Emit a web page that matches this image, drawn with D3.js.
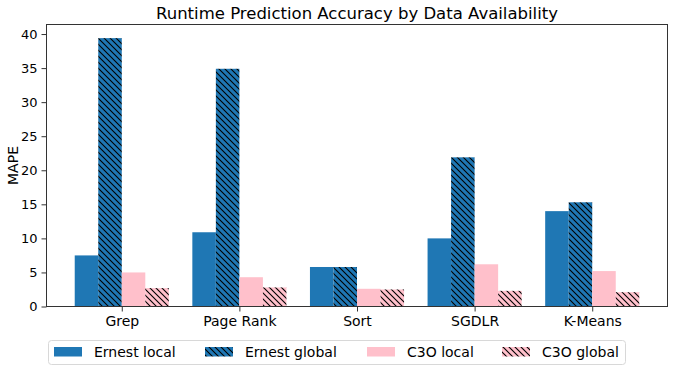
<!DOCTYPE html>
<html><head><meta charset="utf-8">
<script src="https://cdn.jsdelivr.net/npm/d3@7"></script>
<style>body{margin:0;background:#fff}svg{display:block}text{font-family:"DejaVu Sans",sans-serif;fill:#000}</style>
</head><body><svg id="c" width="675" height="372"></svg>
<script>
const categories = ["Grep", "Page Rank", "Sort", "SGDLR", "K-Means"];
const seriesNames = ["Ernest local", "Ernest global", "C3O local", "C3O global"];
const ernestLocal  = [7.5, 10.9, 5.8, 10.0, 14.0];
const ernestGlobal = [39.4, 34.9, 5.8, 21.9, 15.3];
const c3oLocal     = [5.0, 4.3, 2.6, 6.2, 5.2];
const c3oGlobal    = [2.7, 2.8, 2.5, 2.3, 2.1];
const yTicks = [0, 5, 10, 15, 20, 25, 30, 35, 40];

const series = [ernestLocal, ernestGlobal, c3oLocal, c3oGlobal];
const colors = ["#1f77b4", "#1f77b4", "#ffc0cb", "#ffc0cb"];
const hatched = [false, true, false, true];

const svg = d3.select("#c");
const L = 46.5, R = 667.5, T = 24.5, B = 306.5;
const defs = svg.append("defs");
["blue", "pink"].forEach((n, i) => {
  const p = defs.append("pattern").attr("id", "h" + n).attr("patternUnits", "userSpaceOnUse")
    .attr("width", 6).attr("height", 6);
  p.append("rect").attr("width", 6).attr("height", 6).attr("fill", i ? "#ffc0cb" : "#1f77b4");
  p.append("path").attr("d", "M-1,-1L7,7M-4,2L2,8M4,-2L8,2").attr("stroke", "#000").attr("stroke-width", 1.1);
});

const x = d3.scaleLinear().domain([-0.64, categories.length - 1 + 0.64]).range([L, R]);
const y = d3.scaleLinear().domain([0, 41.4]).range([B, T]);
const w = 0.2;

series.forEach((vals, s) => {
  svg.append("g").selectAll("rect").data(vals).join("rect")
    .attr("x", (d, i) => x(i - 0.4 + s * w))
    .attr("width", x(w) - x(0))
    .attr("y", d => y(d))
    .attr("height", d => y(0) - y(d))
    .attr("fill", hatched[s] ? (s === 1 ? "url(#hblue)" : "url(#hpink)") : colors[s]);
});

// y axis
const ya = svg.append("g").attr("transform", `translate(${L},0)`)
  .call(d3.axisLeft(y).tickValues(yTicks).tickSize(5).tickPadding(4));
ya.select(".domain").remove();
ya.selectAll("line").attr("stroke", "#333");
ya.selectAll("text").style("font-size", "13px").style("font-family", "DejaVu Sans");

// x axis
const xa = svg.append("g").attr("transform", `translate(0,${B})`)
  .call(d3.axisBottom(x).tickValues(d3.range(categories.length)).tickFormat(i => categories[i]).tickSize(5).tickPadding(5));
xa.select(".domain").remove();
xa.selectAll("line").attr("stroke", "#333");
xa.selectAll("text").style("font-size", "14px").style("font-family", "DejaVu Sans");

// frame
svg.append("rect").attr("x", L).attr("y", T).attr("width", R - L).attr("height", B - T)
  .attr("fill", "none").attr("stroke", "#333").attr("stroke-width", 1);

svg.append("text").attr("x", (L + R) / 2).attr("y", 19).attr("text-anchor", "middle")
  .style("font-size", "16.5px").text("Runtime Prediction Accuracy by Data Availability");
svg.append("text").attr("transform", `translate(18,${(T + B) / 2}) rotate(-90)`).attr("text-anchor", "middle")
  .style("font-size", "14px").text("MAPE");

// legend
const lg = svg.append("g");
lg.append("rect").attr("x", 48.5).attr("y", 340.5).attr("width", 577).attr("height", 24).attr("rx", 3)
  .attr("fill", "#fff").attr("stroke", "#d8d8d8");
const lx = [54, 205, 367, 502];
seriesNames.forEach((n, s) => {
  lg.append("rect").attr("x", lx[s]).attr("y", 347).attr("width", 28).attr("height", 9.5)
    .attr("fill", hatched[s] ? (s === 1 ? "url(#hblue)" : "url(#hpink)") : colors[s]);
  lg.append("text").attr("x", lx[s] + 40).attr("y", 357).style("font-size", "14px").text(n);
});
</script></body></html>
